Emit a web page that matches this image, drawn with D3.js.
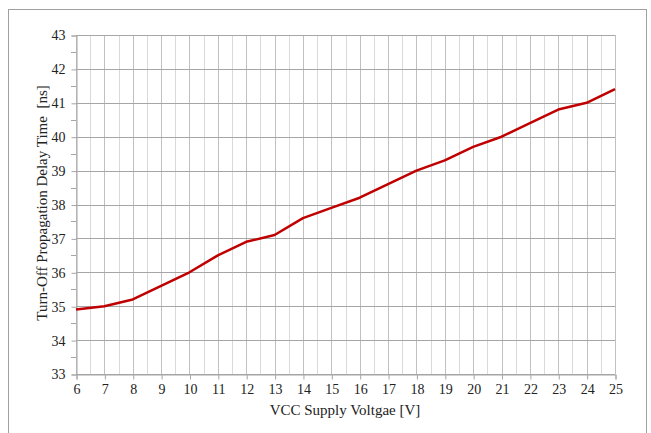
<!DOCTYPE html>
<html><head><meta charset="utf-8">
<script src="https://cdn.jsdelivr.net/npm/d3@7"></script>
<style>body{margin:0;background:#fff}svg{display:block}text{font-family:'Liberation Serif','Times New Roman',serif}</style>
</head><body>
<svg id="c" width="651" height="433"></svg>
<script>
const voltages = [6,7,8,9,10,11,12,13,14,15,16,17,18,19,20,21,22,23,24,25];
const delays = [34.9,35.0,35.2,35.6,36.0,36.5,36.9,37.1,37.6,37.9,38.2,38.6,39.0,39.3,39.7,40.0,40.4,40.8,41.0,41.4];
const yTicks = [33,34,35,36,37,38,39,40,41,42,43];
const xLabel = "VCC Supply Voltgae [V]";
const yLabel = "Turn-Off Propagation Delay Time  [ns]";

const svg = d3.select("#c");
const L=76,R=615,T=35,B=374;
const x = d3.scaleLinear().domain([6,25]).range([L,R]);
const y = d3.scaleLinear().domain([33,43]).range([B,T]);
const font = "'Liberation Serif','Times New Roman',serif";

svg.append("rect").attr("x",8.5).attr("y",9.5).attr("width",638).attr("height",440)
  .attr("fill","none").attr("stroke","#a0a0a0");

const halfX = d3.range(6.5,25,1);
svg.append("g").selectAll("line").data(halfX).join("line")
  .attr("x1",d=>Math.round(x(d))+0.5).attr("x2",d=>Math.round(x(d))+0.5)
  .attr("y1",T).attr("y2",B).attr("stroke","#d9d9d9");
svg.append("g").selectAll("line").data(voltages).join("line")
  .attr("x1",d=>Math.round(x(d))+0.5).attr("x2",d=>Math.round(x(d))+0.5)
  .attr("y1",T).attr("y2",B).attr("stroke","#c0c0c0");
svg.append("g").selectAll("line").data(yTicks).join("line")
  .attr("x1",L).attr("x2",R)
  .attr("y1",d=>Math.round(y(d))+0.5).attr("y2",d=>Math.round(y(d))+0.5)
  .attr("stroke","#a6a6a6");

const xAxis = d3.axisBottom(x).tickValues(voltages).tickSize(5).tickPadding(5).tickFormat(d3.format("d"));
const gx = svg.append("g").attr("transform",`translate(0.5,${B+0.5})`).call(xAxis);
const yAxis = d3.axisLeft(y).tickValues(yTicks).tickSize(5).tickPadding(6).tickFormat(d3.format("d"));
const gy = svg.append("g").attr("transform",`translate(${L+0.5},0.5)`).call(yAxis);
svg.append("g").selectAll("line").data(d3.range(33.5,43,1)).join("line")
  .attr("x1",L-5).attr("x2",L).attr("y1",d=>Math.round(y(d))+0.5).attr("y2",d=>Math.round(y(d))+0.5)
  .attr("stroke","#a6a6a6");
[gx,gy].forEach(g=>{
  g.attr("font-family",font).attr("font-size",14);
  g.selectAll(".domain").attr("stroke","#a6a6a6");
  g.selectAll(".tick line").attr("stroke","#a6a6a6");
  g.selectAll("text").style("font-family",font).style("font-size","14px").attr("fill","#222");
});

svg.append("path").datum(voltages.map((v,i)=>[v,delays[i]]))
  .attr("fill","none").attr("stroke","#c00000").attr("stroke-width",2.5)
  .attr("stroke-linejoin","round")
  .attr("d",d3.line().x(d=>x(d[0])).y(d=>y(d[1])));

svg.append("text").attr("x",345).attr("y",415).attr("text-anchor","middle")
  .style("font-family",font).attr("font-size",15).attr("fill","#222").text(xLabel);
svg.append("text").attr("transform","translate(47,203) rotate(-90)").attr("text-anchor","middle")
  .style("font-family",font).attr("font-size",15).attr("fill","#222")
  .style("white-space","pre").text(yLabel);
</script>
</body></html>
